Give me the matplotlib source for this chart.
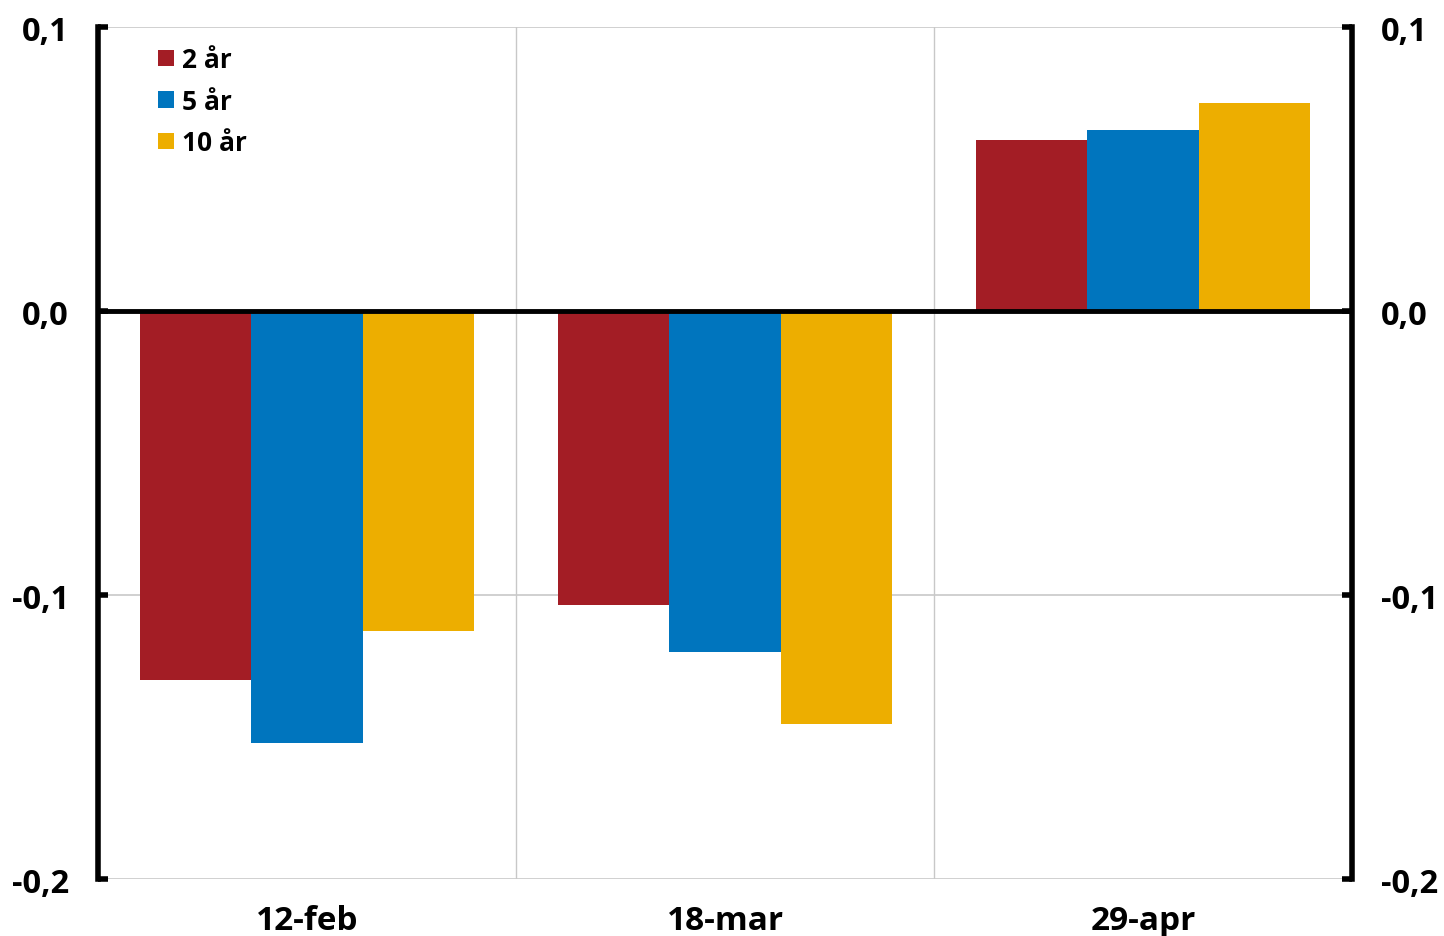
import matplotlib.pyplot as plt
import numpy as np

categories = ["12-feb", "18-mar", "29-apr"]
series_names = ["2 år", "5 år", "10 år"]
values_2y = [-0.130, -0.1035, 0.0602]
values_5y = [-0.152, -0.120, 0.0637]
values_10y = [-0.1127, -0.1454, 0.0732]
y_ticks = [-0.2, -0.1, 0.0, 0.1]
y_tick_labels = ["-0,2", "-0,1", "0,0", "0,1"]

colors = ["#A31D25", "#0075BE", "#EDAE00"]
plt.rcParams['font.family'] = ['Open Sans', 'DejaVu Sans']

fig = plt.figure(figsize=(14.44, 9.37), dpi=100)
ax = fig.add_axes([0.0679, 0.0608, 0.8684, 0.9093])

x = np.arange(len(categories))
width = 0.8 / 3
for i, (vals, name) in enumerate(zip([values_2y, values_5y, values_10y], series_names)):
    ax.bar(x + (i - 1) * width, vals, width, color=colors[i], label=name, zorder=3)

ax.set_xlim(-0.5, 2.5)
ax.set_ylim(-0.2, 0.1)
ax.set_yticks(y_ticks)
ax.set_yticklabels(y_tick_labels)
ax.set_xticks(x)
ax.set_xticklabels(categories)

# grid
for xv in [0.5, 1.5]:
    ax.axvline(xv, color='#C8C8C8', lw=1, zorder=1)
for yv in [-0.2, -0.1, 0.1]:
    ax.axhline(yv, color='#C8C8C8', lw=1.2, zorder=1)
ax.axhline(0, color='black', lw=3.5, zorder=4)

for s in ['top', 'bottom']:
    ax.spines[s].set_visible(False)
for s in ['left', 'right']:
    ax.spines[s].set_linewidth(4)
    ax.spines[s].set_zorder(5)

ax.tick_params(axis='y', direction='in', length=7, width=4, labelsize=23.5,
               left=True, right=True, labelleft=True, labelright=True, pad=21)
ax.tick_params(axis='x', length=0, labelsize=24, pad=18)
for lbl in ax.get_xticklabels() + ax.get_yticklabels():
    lbl.set_fontweight('bold')
for t in ax.yaxis.get_major_ticks():
    t.label2.set_fontweight('bold')
    t.label1.set_y(t.label1.get_position()[1])

leg = ax.legend(loc='upper left', bbox_to_anchor=(0.033, 0.999), frameon=False,
                prop={'size': 19, 'weight': 'bold'}, handlelength=0.6, handleheight=0.6,
                handletextpad=0.3, labelspacing=0.55, borderaxespad=0.3)

fig.savefig("out.png", dpi=100)
